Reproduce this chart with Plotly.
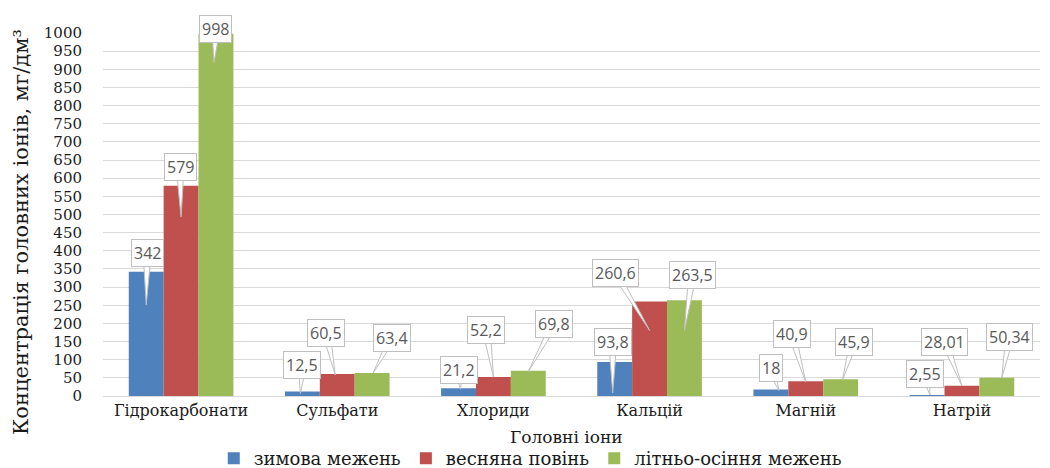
import plotly.graph_objects as go

# ---- data ----
categories = ["Гідрокарбонати", "Сульфати", "Хлориди", "Кальцій", "Магній", "Натрій"]
series_names = ["зимова межень", "весняна повінь", "літньо-осіння межень"]
winter = [342, 12.5, 21.2, 93.8, 18, 2.55]
spring = [579, 60.5, 52.2, 260.6, 40.9, 28.01]
summer = [998, 63.4, 69.8, 263.5, 45.9, 50.34]
y_ticks = list(range(0, 1001, 50))

series = [winter, spring, summer]
colors = ["#4F81BD", "#C0504D", "#9BBB59"]

# callout geometry (pixels, relative to bar-top centre; y measured downward):
# (tip_dx, tip_dy, box_dx, box_dy)
callouts = [
    [(0, 33, 1, -19), (-2, 2, 0, -26), (2, 1, 0, -18), (-2, 31, -2, -20), (8, 1, 0, -21), (3, 0, -2, -21)],
    [(0, 31, -1, -19), (-2, 1, -11, -41), (0, 0, -7, -47), (0, 29, -34, -28), (0, 1, -14, -47), (0, 0, -17, -44)],
    [(-2, 29, 0, -5), (1, 0, 20, -35), (0, 1, 26, -47), (0, 30, 8, -25), (2, 0, 13, -37), (5, 0, 13, -41)],
]

BARGAP = 0.33
bw = (1 - BARGAP) / 3
SERIF = "DejaVu Serif"
TXT = "#1a1a1a"


def fmt(v):
    if float(v).is_integer():
        return str(int(v))
    return ("%g" % v).replace(".", ",")


fig = go.Figure()
xs = list(range(len(categories)))
for k, (name, vals, col) in enumerate(zip(series_names, series, colors)):
    fig.add_trace(go.Bar(
        x=xs, y=vals, name=name, marker=dict(color=col, line=dict(width=0)),
        hoverinfo="y",
    ))

shapes = []
annotations = []
for k, vals in enumerate(series):
    for i, v in enumerate(vals):
        bx = i + (k - 1) * bw
        tdx, tdy, cdx, cdy = callouts[k][i]
        w = 4
        path = "M %d,%d L %d,%d L %d,%d Z" % (cdx - w, -cdy, cdx + w, -cdy, tdx, -tdy)
        shapes.append(dict(
            type="path", xref="x", yref="y", xsizemode="pixel", ysizemode="pixel",
            xanchor=bx, yanchor=v, path=path,
            fillcolor="white", line=dict(color="#BFBFBF", width=1), layer="above",
        ))
        annotations.append(dict(
            x=bx, y=v, xref="x", yref="y", text=fmt(v), showarrow=False,
            xshift=cdx, yshift=-cdy,
            bgcolor="white", bordercolor="#BFBFBF", borderwidth=1, borderpad=2,
            font=dict(family="Open Sans", size=16, color="#595959"),
        ))

annotations.append(dict(
    x=0.495, y=-0.113, xref="paper", yref="paper", text="Головні іони",
    showarrow=False, yanchor="middle",
    font=dict(family=SERIF, size=17, color=TXT),
))
annotations.append(dict(
    x=-0.0875, y=0.452, xref="paper", yref="paper", text="Концентрація головних іонів, мг/дм³",
    showarrow=False, textangle=-90, xanchor="center", yanchor="middle",
    font=dict(family=SERIF, size=21, color=TXT),
))

fig.update_layout(
    width=1042, height=460,
    margin=dict(l=95, r=10, t=25, b=72, autoexpand=False),
    paper_bgcolor="white", plot_bgcolor="white",
    barmode="group", bargap=BARGAP, bargroupgap=0,
    showlegend=True,
    legend=dict(
        orientation="h", x=0.456, xanchor="center", y=-0.172, yanchor="middle",
        font=dict(family=SERIF, size=18, color=TXT),
        tracegroupgap=0, traceorder="normal", itemwidth=30,
    ),
    shapes=shapes,
    annotations=annotations,
    xaxis=dict(
        range=[-0.5, len(categories) - 0.5],
        tickmode="array", tickvals=xs, ticktext=categories,
        showgrid=False, zeroline=False, showline=True, linecolor="#D9D9D9",
        ticks="", tickfont=dict(family=SERIF, size=16, color=TXT),
    ),
    yaxis=dict(
        range=[0, 1000], tickmode="array", tickvals=y_ticks,
        showgrid=True, gridcolor="#D9D9D9", gridwidth=1, zeroline=False,
        showline=False, ticks="", ticklabelstandoff=20,
        tickfont=dict(family=SERIF, size=15, color=TXT),
    ),
)

fig.write_html("out.html")
